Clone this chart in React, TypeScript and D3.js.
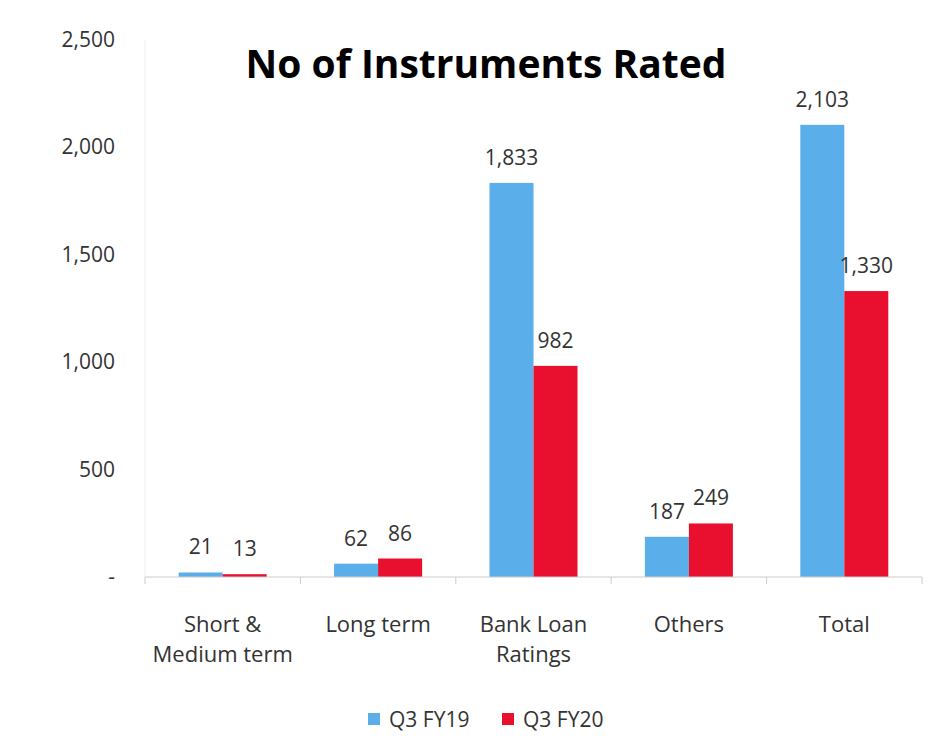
import React from "react";
import * as d3 from "d3";

const categories = [["Short &", "Medium term"], ["Long term"], ["Bank Loan", "Ratings"], ["Others"], ["Total"]];
const q3fy19 = [21, 62, 1833, 187, 2103];
const q3fy20 = [13, 86, 982, 249, 1330];
const seriesNames = ["Q3 FY19", "Q3 FY20"];
const colors = ["#5aaeea", "#e8102e"];
const yTicks = [0, 500, 1000, 1500, 2000, 2500];

export default function App() {
  const W = 946, H = 755;
  const left = 145, right = 922, top = 39.5, bottom = 577;
  const x = d3.scaleBand<number>().domain(d3.range(categories.length)).range([left, right]);
  const y = d3.scaleLinear().domain([0, 2500]).range([bottom, top]);
  const bw = 44;
  const fmt = d3.format(",");
  const font = "'Open Sans', sans-serif";
  const fs = 21;
  const series = [q3fy19, q3fy20];
  return (
    <svg width={W} height={H} style={{ position: "absolute", left: 0, top: 0, background: "#fff" }} fontFamily={font}>
      <rect width={W} height={H} fill="#fff" />
      <line x1={left} x2={left} y1={top} y2={bottom} stroke="#f0f0f0" />
      {yTicks.map((t) => (
        <text key={t} x={115} y={y(t)} dy="0.35em" textAnchor="end" fontSize={fs} fill="#333">
          {t === 0 ? "-" : fmt(t)}
        </text>
      ))}
      <text x={486} y={78} textAnchor="middle" fontSize={39} fontWeight="bold" fill="#000">
        No of Instruments Rated
      </text>
      {series.map((vals, s) =>
        vals.map((v, i) => {
          const cx = x(i)! + x.bandwidth() / 2;
          const bx = s === 0 ? cx - bw : cx;
          return (
            <g key={`${s}-${i}`}>
              <rect x={bx} y={y(v)} width={bw} height={bottom - y(v)} fill={colors[s]} />
              <text x={bx + bw / 2} y={y(v) - 18} textAnchor="middle" fontSize={fs} fill="#333">
                {fmt(v)}
              </text>
            </g>
          );
        })
      )}
      <line x1={left} x2={right} y1={bottom} y2={bottom} stroke="#ccc" />
      {d3.range(categories.length + 1).map((i) => {
        const tx = i < categories.length ? x(i)! : right;
        return <line key={i} x1={tx} x2={tx} y1={bottom} y2={bottom + 7} stroke="#ccc" />;
      })}
      {categories.map((lines, i) => (
        <text key={i} textAnchor="middle" fontSize={22} fill="#333">
          {lines.map((l, j) => (
            <tspan key={j} x={x(i)! + x.bandwidth() / 2} y={632 + j * 30}>{l}</tspan>
          ))}
        </text>
      ))}
      {seriesNames.map((n, s) => {
        const lx = 368 + s * 134;
        return (
          <g key={n}>
            <rect x={lx} y={713} width={12} height={12} fill={colors[s]} />
            <text x={lx + 21} y={727} fontSize={fs} fill="#333">{n}</text>
          </g>
        );
      })}
    </svg>
  );
}
